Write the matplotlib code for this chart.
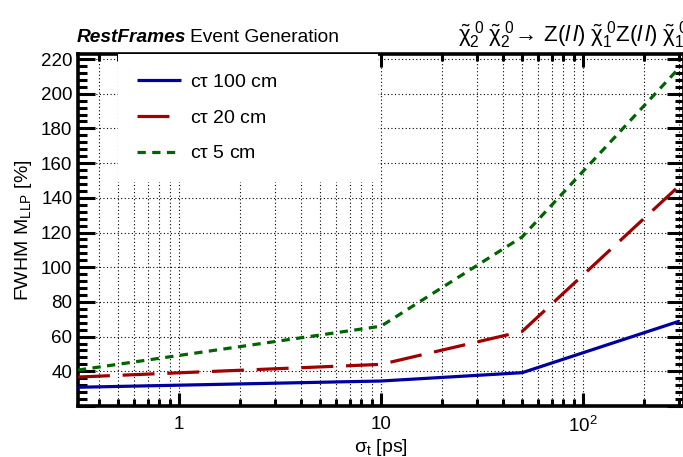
import matplotlib
matplotlib.use("Agg")
import matplotlib.pyplot as plt
from matplotlib.ticker import FixedLocator, FixedFormatter, MultipleLocator, NullFormatter, FuncFormatter

plt.rcParams['font.family'] = ['Liberation Sans', 'DejaVu Sans']
plt.rcParams['mathtext.fontset'] = 'custom'
plt.rcParams['mathtext.rm'] = 'Liberation Sans'
plt.rcParams['mathtext.it'] = 'Liberation Sans:italic'
plt.rcParams['mathtext.bf'] = 'Liberation Sans:bold'
plt.rcParams['mathtext.default'] = 'regular'

# ---- data ----
sigma_t = [0.316, 10, 50, 300]
ct100 = [30.8, 34.4, 39.2, 68.9]
ct20 = [36.7, 44.0, 63.0, 147.0]
ct5 = [40.7, 66.0, 117.5, 215.0]
labels = [r'c$\tau$ 100 cm', r'c$\tau$ 20 cm', r'c$\tau$ 5 cm']
xmajor = [1, 10, 100]
xmajor_labels = ['1', '10', r'$10^{2}$']
xminor = [0.4, 0.5, 0.6, 0.7, 0.8, 0.9, 2, 3, 4, 5, 6, 7, 8, 9,
          20, 30, 40, 50, 60, 70, 80, 90, 200, 300]

W, H = 683, 457
fig = plt.figure(figsize=(W / 100, H / 100), dpi=100)
ax = fig.add_axes([78 / W, 1 - 406 / H, 606 / W, 352 / H])

ax.plot(sigma_t, ct100, color='#0000a0', lw=2.3, solid_capstyle='butt', label=labels[0], zorder=3)
ax.plot(sigma_t, ct20, color='#a00000', lw=2.3, dashes=(10, 4), label=labels[1], zorder=3)
ax.plot(sigma_t, ct5, color='#006400', lw=2.3, dashes=(2.6, 2.0), label=labels[2], zorder=3)

ax.set_xscale('log')
ax.set_xlim(10 ** -0.5, 10 ** 2.5)
ax.set_ylim(20, 222.9)

ax.xaxis.set_major_locator(FixedLocator(xmajor))
ax.xaxis.set_major_formatter(FixedFormatter(xmajor_labels))
ax.xaxis.set_minor_locator(FixedLocator(xminor))
ax.xaxis.set_minor_formatter(NullFormatter())
ax.yaxis.set_major_locator(MultipleLocator(20))
ax.yaxis.set_minor_locator(MultipleLocator(4))
ax.yaxis.set_major_formatter(FuncFormatter(lambda v, p: '' if v < 30 else f'{v:.0f}'))

ax.tick_params(which='both', direction='in', top=True, right=True, width=2.2, labelsize=13.5)
ax.tick_params(axis='y', which='major', length=12, pad=4)
ax.tick_params(axis='y', which='minor', length=6.5)
ax.tick_params(axis='x', which='major', length=9.4, pad=7)
ax.tick_params(axis='x', which='minor', length=5)
for s in ax.spines.values():
    s.set_linewidth(2.6)

ax.grid(which='major', axis='both', color='black', lw=0.8, linestyle=(0, (1, 2.2)), zorder=0)
ax.grid(which='minor', axis='x', color='black', lw=0.8, linestyle=(0, (1, 2.2)), zorder=0)
ax.set_axisbelow(True)

ax.set_xlabel(r'$\sigma_{t}$ [ps]', fontsize=14, labelpad=1)
ax.set_ylabel(r'FWHM M$_{LLP}$ [%]', fontsize=14, labelpad=5)

leg = ax.legend(loc='upper left', bbox_to_anchor=(0.0656, 0.69, 0.43, 0.31), mode='expand',
                frameon=True, fancybox=False, fontsize=14, handlelength=2.27,
                handletextpad=0.46, labelspacing=0.93, borderpad=1.0, borderaxespad=0)
leg.get_frame().set_facecolor('white')
leg.get_frame().set_edgecolor('none')
leg.get_frame().set_alpha(1)

t1 = fig.text(77 / W, 1 - 41.7 / H, 'RestFrames', fontsize=13.8, fontweight='bold', style='italic',
              va='baseline', ha='left')
fig.canvas.draw()
bb = t1.get_window_extent(renderer=fig.canvas.get_renderer())
fig.text(bb.x1 / W + 4 / W, 1 - 41.7 / H, 'Event Generation', fontsize=13.8, va='baseline', ha='left')

fig.text(458 / W, 1 - 41.5 / H,
         r'$\tilde{\chi}_{2}^{\ 0}\;\tilde{\chi}_{2}^{\ 0}\!\rightarrow\,Z(\mathit{l\,l})\;\tilde{\chi}_{1}^{\ 0}Z(\mathit{l\,l})\;\tilde{\chi}_{1}^{\ 0}$',
         fontsize=16, va='baseline', ha='left')

fig.savefig('out.png', dpi=100)
